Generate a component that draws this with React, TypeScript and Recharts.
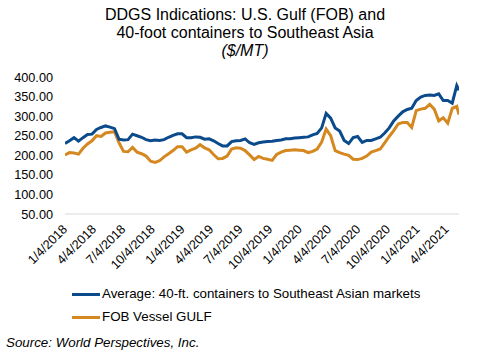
import React from 'react';
import { LineChart, Line, XAxis, YAxis } from 'recharts';

// Biweekly observations starting 1/4/2018 (last point mid-May 2021)
const START_DATE = '2018-01-04';
const STEP_DAYS = 14;
const LAST_DAY_OFFSET = 1225;

const containerValues = [
  230, 237, 245, 236, 245, 253, 254, 266, 271, 275,
  272, 268, 241, 239, 240, 254, 250, 246, 240, 237,
  239, 238, 240, 246, 251, 255, 255, 245, 245, 247,
  246, 241, 242, 237, 230, 224, 224, 235, 237, 238,
  242, 232, 228, 232, 234, 235, 236, 238, 239, 242,
  242, 244, 245, 246, 247, 252, 256, 270, 307, 295,
  270, 262, 238, 230, 245, 248, 233, 238, 238, 242,
  246, 257, 270, 288, 300, 311, 317, 320, 340, 349,
  353, 354, 353, 357, 340, 340, 333, 378, 366,
];

const fobValues = [
  201, 207, 206, 203, 218, 229, 237, 250, 248, 257,
  259, 260, 232, 210, 209, 220, 208, 204, 198, 185,
  182, 186, 196, 204, 212, 222, 222, 208, 214, 218,
  227, 219, 214, 202, 191, 192, 198, 216, 219, 218,
  212, 201, 189, 197, 192, 190, 187, 202, 208, 212,
  213, 214, 213, 212, 207, 210, 216, 234, 267, 250,
  212, 207, 203, 200, 190, 189, 192, 198, 208, 212,
  216, 232, 248, 263, 280, 284, 284, 271, 314, 318,
  320, 330, 318, 288, 296, 282, 320, 325, 304,
];

const xTickLabels = [
  '1/4/2018', '4/4/2018', '7/4/2018', '10/4/2018',
  '1/4/2019', '4/4/2019', '7/4/2019', '10/4/2019',
  '1/4/2020', '4/4/2020', '7/4/2020', '10/4/2020',
  '1/4/2021', '4/4/2021',
];

const yTicks = [50, 100, 150, 200, 250, 300, 350, 400];

const DAY_MS = 86400000;
const startMs = Date.parse(START_DATE + 'T00:00:00Z');

const labelToOffset = (s: string) => {
  const [m, d, y] = s.split('/').map(Number);
  return Math.round((Date.UTC(y, m - 1, d) - startMs) / DAY_MS);
};

const offsetToLabel = (off: number) => {
  const dt = new Date(startMs + off * DAY_MS);
  return `${dt.getUTCMonth() + 1}/${dt.getUTCDate()}/${dt.getUTCFullYear()}`;
};

const data = containerValues.map((v, i) => ({
  day: i === containerValues.length - 1 ? LAST_DAY_OFFSET : i * STEP_DAYS,
  container: v,
  fob: fobValues[i],
}));

const xTicks = xTickLabels.map(labelToOffset);

const BLUE = '#0B4A8B';
const ORANGE = '#D5881F';
const FONT = '"Liberation Sans", Arial, sans-serif';

const XTick = (props: any) => {
  const { x, y, payload } = props;
  const ax = x + 3;
  const ay = y + 16;
  return (
    <text
      x={ax}
      y={ay}
      textAnchor="end"
      transform={`rotate(-45 ${ax} ${ay})`}
      fontSize={12.7}
      fontFamily={FONT}
      fill="#000"
    >
      {offsetToLabel(payload.value)}
    </text>
  );
};

export default function App() {
  return (
    <div
      style={{
        position: 'fixed',
        left: 0,
        top: 0,
        width: 487,
        height: 352,
        background: '#fff',
        fontFamily: FONT,
        color: '#000',
      }}
    >
      <div
        style={{
          position: 'absolute',
          left: 0,
          top: 6,
          width: 490,
          textAlign: 'center',
          fontSize: 16,
          lineHeight: '18px',
        }}
      >
        <div>DDGS Indications: U.S. Gulf (FOB) and</div>
        <div>40-foot containers to Southeast Asia</div>
        <div style={{ fontStyle: 'italic' }}>($/MT)</div>
      </div>
      <div style={{ position: 'absolute', left: 0, top: 0 }}>
        <LineChart
          width={487}
          height={352}
          data={data}
          margin={{ top: 77, right: 28, left: 8, bottom: 78 }}
        >
          <XAxis
            type="number"
            dataKey="day"
            domain={[0, LAST_DAY_OFFSET]}
            ticks={xTicks}
            interval={0}
            tick={<XTick />}
            tickLine={false}
            tickSize={0}
            tickMargin={0}
            axisLine={{ stroke: '#D9D9D9', strokeWidth: 1 }}
            height={60}
            allowDataOverflow
          />
          <YAxis
            type="number"
            domain={[50, 400]}
            ticks={yTicks}
            interval={0}
            tickFormatter={(v: number) => v.toFixed(2)}
            axisLine={false}
            tickLine={false}
            tickSize={0}
            tickMargin={12}
            width={57}
            tick={{ fontSize: 12.7, fill: '#000', fontFamily: FONT }}
          />
          <Line
            type="linear"
            dataKey="fob"
            stroke={ORANGE}
            strokeWidth={3}
            dot={false}
            isAnimationActive={false}
          />
          <Line
            type="linear"
            dataKey="container"
            stroke={BLUE}
            strokeWidth={3}
            dot={false}
            isAnimationActive={false}
          />
        </LineChart>
      </div>
      <div style={{ position: 'absolute', left: 72, top: 292.5, width: 28, height: 3, background: BLUE }} />
      <div
        style={{
          position: 'absolute',
          left: 102,
          top: 286,
          fontSize: 13.33,
          lineHeight: '16px',
          whiteSpace: 'nowrap',
        }}
      >
        Average: 40-ft. containers to Southeast Asian markets
      </div>
      <div style={{ position: 'absolute', left: 72, top: 315.5, width: 28, height: 3, background: ORANGE }} />
      <div
        style={{
          position: 'absolute',
          left: 102,
          top: 309,
          fontSize: 13.33,
          lineHeight: '16px',
          whiteSpace: 'nowrap',
        }}
      >
        FOB Vessel GULF
      </div>
      <div
        style={{
          position: 'absolute',
          left: 6,
          top: 335,
          fontSize: 13.33,
          lineHeight: '16px',
          fontStyle: 'italic',
          whiteSpace: 'nowrap',
        }}
      >
        Source: World Perspectives, Inc.
      </div>
    </div>
  );
}
